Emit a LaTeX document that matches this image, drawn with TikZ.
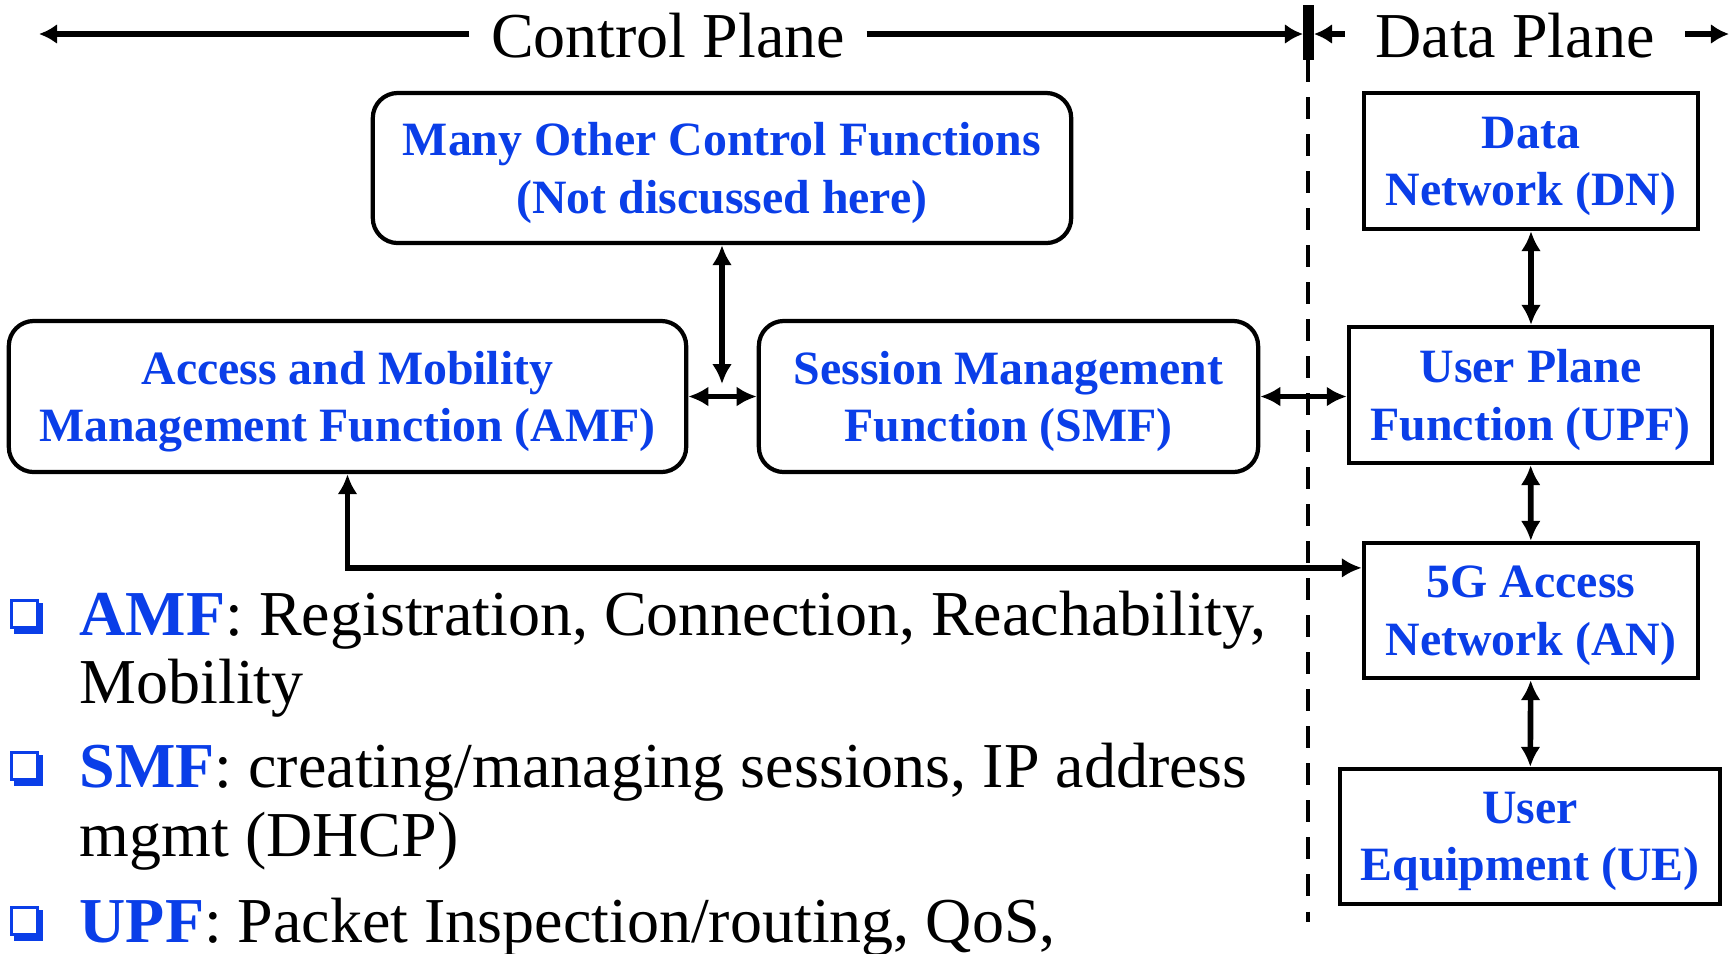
\documentclass[tikz,border=0pt]{standalone}
\usepackage{fontspec}
\setmainfont{Liberation Serif}
\usepackage{tikz}
\usetikzlibrary{arrows.meta}
\definecolor{nfblue}{RGB}{10,62,232}
\newcommand{\boxfont}{\fontsize{13.6}{16.3}\selectfont\bfseries}
\newcommand{\bigfont}{\fontsize{18.2}{21}\selectfont}
\newcommand{\nf}[1]{\textcolor{nfblue}{\textbf{#1}}}

\tikzset{
  cpbox/.style={draw, rounded corners=0.25cm, line width=1.2pt, align=center,
    text=nfblue, font=\boxfont, inner sep=0pt, text depth=0pt},
  upbox/.style={draw, line width=1.2pt, align=center, text=nfblue,
    font=\boxfont, inner sep=0pt, text depth=0pt},
  link/.style={{Latex[length=0.2cm,width=0.2cm]}-{Latex[length=0.2cm,width=0.2cm]},
    line width=1.6pt},
  hdarrow/.style={-{Latex[length=0.18cm,width=0.2cm]}, line width=1.6pt},
  itemtext/.style={anchor=base west, font=\bigfont, inner sep=0pt}
}

\begin{document}
\begin{tikzpicture}[x=0.01cm,y=-0.01cm]
\useasboundingbox (0,0) rectangle (1729,953);

% plane headings
\node[font=\bigfont, anchor=base, inner xsep=0.21cm] (cp) at (668,57) {Control Plane};
\node[font=\bigfont, anchor=base, inner xsep=0.3cm] (dp) at (1515,57) {Data Plane};
\coordinate (lend) at (39,34);
\coordinate (rend) at (1729,34);
\coordinate (bartop) at (1308,5);
\coordinate (barbot) at (1308,60);
\draw[hdarrow] (cp.west |- lend) -- (lend);
\draw[hdarrow] (cp.east |- lend) -- ([xshift=-0.05cm]bartop |- lend);
\draw[hdarrow] (dp.west |- lend) -- ([xshift=0.06cm]bartop |- lend);
\draw[hdarrow] (dp.east |- rend) -- (rend);
\draw[line width=0.11cm] (bartop) -- (barbot);
\draw[line width=1.4pt, dash pattern=on 0.22cm off 0.15cm] (barbot) -- (1308,922);

% functions
\node[cpbox, minimum width=6.98cm, minimum height=1.5cm] (other) at (722,168)
  {Many Other Control Functions\\(Not discussed here)};
\node[cpbox, minimum width=6.77cm, minimum height=1.51cm] (amf) at (347.5,396.5)
  {Access and Mobility\\Management Function (AMF)};
\node[cpbox, minimum width=4.99cm, minimum height=1.51cm] (smf) at (1008.5,396.5)
  {Session Management\\Function (SMF)};
\node[upbox, minimum width=3.34cm, minimum height=1.36cm] (dn) at (1531,161)
  {Data\\Network (DN)};
\node[upbox, minimum width=3.63cm, minimum height=1.36cm] (upf) at (1530.5,395)
  {User Plane\\Function (UPF)};
\node[upbox, minimum width=3.34cm, minimum height=1.35cm] (an) at (1531,610.5)
  {5G Access\\Network (AN)};
\node[upbox, minimum width=3.80cm, minimum height=1.35cm] (ue) at (1530,836.5)
  {User\\Equipment (UE)};

\coordinate (mid) at (722,384);
\draw[link] (other.south) -- (mid);
\draw[link] (amf) -- (smf);
\draw[link] (smf.east) -- (smf.east -| upf.west);
\draw[link] (dn) -- (dn |- upf.north);
\draw[link] (upf) -- (an);
\draw[link] (an) -- (ue);
\draw[link] (amf.south) |- ([yshift=-0.27cm]an.north west);

% notes
\foreach \b in {635,787,942} {
  \fill[nfblue] (14,\b-32) rectangle (43,\b-1);
  \filldraw[fill=white, draw=nfblue, line width=0.7pt] (11.5,\b-34.5) rectangle (37.5,\b-7.5);
}
\node[itemtext] (amfnote) at (79,635) {\nf{AMF}: Registration, Connection, Reachability,};
\node[itemtext] (amfnote2) at (79,703) {Mobility};
\node[itemtext] (smfnote) at (79,787) {\nf{SMF}: creating/managing sessions, IP address};
\node[itemtext] (smfnote2) at (79,856) {mgmt (DHCP)};
\node[itemtext] (upfnote) at (79,942) {\nf{UPF}: Packet Inspection/routing, QoS,};
\end{tikzpicture}
\end{document}
